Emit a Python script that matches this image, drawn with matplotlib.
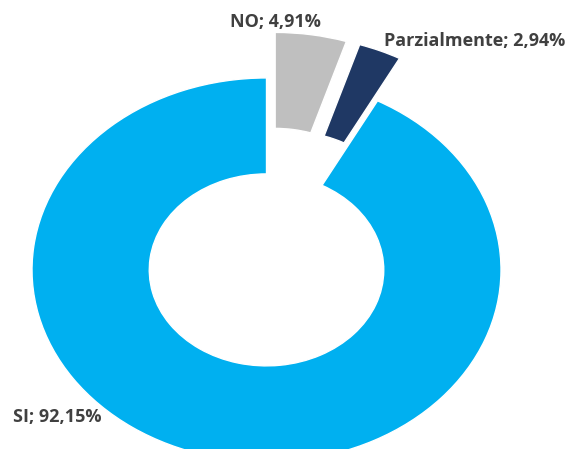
import matplotlib.pyplot as plt

labels = ['NO', 'Parzialmente', 'SI']
values = [4.91, 2.94, 92.15]
colors = ['#BFBFBF', '#1F3864', '#00B0F0']
explode = [0.24, 0.24, 0]

# label anchor points (data coords)
label_pos = [(0.036, 1.292), (0.889, 1.193), (-0.893, -0.766)]

fig = plt.figure(figsize=(5.71, 4.49), dpi=100)
ax = fig.add_axes([0, 0, 1, 1])
ax.pie(values, colors=colors, explode=explode, startangle=90, counterclock=False,
       radius=1, wedgeprops=dict(width=0.5, edgecolor='white', linewidth=1))

for lab, val, (x, y) in zip(labels, values, label_pos):
    txt = f'{lab}; {val:.2f}%'.replace('.', ',')
    ax.text(x, y, txt, ha='center', va='center', fontsize=13, fontweight='bold',
            color='#404040', family=['Open Sans', 'DejaVu Sans'])

# chart is drawn squashed vertically, as in the original
ax.set_aspect('auto')
ax.set_xlim(-1.1365, 1.2985)
ax.set_ylim(-0.933, 1.406)
ax.axis('off')

fig.savefig('out.png', dpi=100)
